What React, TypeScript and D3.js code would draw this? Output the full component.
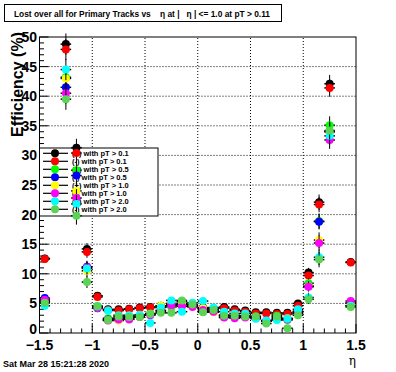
import React from "react";
import * as d3 from "d3";

const bins = [-1.45, -1.25, -1.15, -1.05, -0.95, -0.85, -0.75, -0.65, -0.55, -0.45, -0.35, -0.25, -0.15, -0.05, 0.05, 0.15, 0.25, 0.35, 0.45, 0.55, 0.65, 0.75, 0.85, 0.95, 1.05, 1.15, 1.25, 1.45];
const binErr = [0.6, 1.8, 1.5, 1.0, 0.5, 0.3, 0.3, 0.3, 0.3, 0.3, 0.3, 0.3, 0.3, 0.3, 0.3, 0.3, 0.3, 0.3, 0.3, 0.3, 0.3, 0.3, 0.3, 0.4, 0.8, 1.3, 1.5, 0.6];

const posPt01 = [12.6, 48.8, 31.3, 14.2, 6.3, 4.0, 4.0, 4.1, 4.3, 4.4, 4.6, 4.7, 4.9, 4.7, 4.3, 4.2, 4.4, 4.0, 3.8, 3.5, 3.5, 3.4, 3.4, 5.0, 10.2, 22.1, 42.1, 12.0];
const negPt01 = [12.5, 47.9, 30.4, 13.7, 6.1, 3.9, 3.8, 4.0, 4.2, 4.3, 4.5, 4.6, 4.8, 4.6, 4.2, 4.1, 4.2, 3.8, 3.6, 3.3, 3.3, 3.2, 3.2, 4.6, 9.7, 21.7, 41.4, 11.9];
const posPt05 = [5.3, 43.2, 27.5, 11.0, 4.5, 2.5, 2.6, 2.8, 2.9, 3.3, 3.6, 4.4, 5.3, 4.7, 3.6, 3.8, 3.0, 3.0, 2.9, 2.8, 2.0, 2.9, 2.2, 3.3, 8.4, 18.9, 35.1, 4.6];
const negPt05 = [5.9, 41.5, 26.6, 11.2, 4.2, 2.3, 2.4, 2.6, 2.8, 3.2, 3.8, 4.8, 4.8, 4.6, 3.9, 3.6, 3.0, 2.8, 2.8, 2.7, 2.0, 2.6, 2.4, 3.6, 7.9, 18.8, 34.0, 5.1];
const posPt10 = [5.4, 43.0, 24.0, 10.5, 4.3, 2.2, 2.1, 2.4, 2.7, 3.2, 4.6, 5.0, 5.0, 4.5, 4.2, 3.5, 2.7, 2.6, 2.7, 2.6, 2.0, 2.3, 2.5, 3.7, 7.9, 15.7, 34.0, 5.0];
const negPt10 = [5.6, 40.5, 22.8, 11.1, 4.3, 2.1, 2.3, 2.3, 2.7, 3.0, 3.8, 4.7, 4.5, 4.4, 3.9, 3.6, 2.6, 2.5, 2.6, 2.5, 2.1, 2.4, 2.3, 3.5, 7.8, 15.2, 32.6, 5.4];
const posPt20 = [4.6, 44.5, 21.8, 10.9, 4.5, 3.8, 3.0, 3.0, 3.1, 1.7, 4.3, 5.5, 3.6, 5.1, 5.4, 4.3, 3.6, 3.3, 3.3, 2.4, 2.1, 2.2, 2.4, 4.0, 6.0, 12.8, 33.3, 4.6];
const negPt20 = [5.1, 39.5, 19.8, 8.6, 4.5, 2.2, 2.8, 2.7, 2.7, 3.2, 3.4, 3.4, 5.5, 4.8, 3.5, 3.9, 2.9, 2.9, 2.8, 2.8, 1.6, 2.8, 0.8, 3.0, 5.7, 12.4, 34.2, 4.4];

const seriesLabels = ["(+) with pT > 0.1", "(-) with pT > 0.1", "(+) with pT > 0.5", "(-) with pT > 0.5", "(+) with pT > 1.0", "(-) with pT > 1.0", "(+) with pT > 2.0", "(-) with pT > 2.0"];
const seriesColors = ["#000000", "#ff0000", "#00ff00", "#0000ff", "#ffff00", "#ff00ff", "#00ffff", "#59d454"];
const seriesValues = [posPt01, negPt01, posPt05, negPt05, posPt10, negPt10, posPt20, negPt20];

const xTicks = [-1.5, -1, -0.5, 0, 0.5, 1, 1.5];
const xTickLabels = ["\u22121.5", "\u22121", "\u22120.5", "0", "0.5", "1", "1.5"];
const yTicks = [0, 5, 10, 15, 20, 25, 30, 35, 40, 45, 50];

const title = "Lost over all for Primary Tracks vs    \u03b7 at |   \u03b7 | <= 1.0 at pT > 0.11";
const dateText = "Sat Mar 28 15:21:28 2020";

export default function App() {
  const W = 396, H = 372;
  const x = d3.scaleLinear().domain([-1.5, 1.5]).range([39.5, 356]);
  const y = d3.scaleLinear().domain([0, 50]).range([333, 37]);
  const halfBin = 0.05;
  const font = "'Liberation Sans', Arial, sans-serif";

  const xMinor = d3.range(-1.5, 1.5001, 0.1);
  const yMinor = d3.range(0, 50.001, 1);
  const gridX = xTicks.filter((t) => t > -1.5 && t < 1.5);
  const gridY = yTicks.filter((t) => t > 0 && t < 50);

  const legX0 = 39.5, legX1 = 158, legY0 = 148, legY1 = 216;
  const legRow = d3.scaleLinear().domain([0, 7]).range([153.3, 209.3]);

  return (
    <svg width={W} height={H} style={{ position: "absolute", left: 0, top: 0, background: "#fff" }} fontFamily={font}>
      <rect x={0} y={0} width={W} height={H} fill="#fff" />
      {/* title box */}
      <rect x={4.5} y={4.5} width={277} height={17} fill="#fff" stroke="#000" strokeWidth={1} />
      <text x={142} y={16.5} textAnchor="middle" fontSize={9} fontWeight="bold" textLength={256} lengthAdjust="spacingAndGlyphs" style={{ whiteSpace: "pre" }}>{title}</text>

      {/* grid */}
      {gridX.map((t) => (
        <line key={"gx" + t} x1={x(t)} x2={x(t)} y1={y(0)} y2={y(50)} stroke="#000" strokeDasharray="1,2" strokeWidth={1} />
      ))}
      {gridY.map((t) => (
        <line key={"gy" + t} x1={x(-1.5)} x2={x(1.5)} y1={y(t)} y2={y(t)} stroke="#000" strokeDasharray="1,2" strokeWidth={1} />
      ))}

      {/* frame */}
      <rect x={x(-1.5)} y={y(50)} width={x(1.5) - x(-1.5)} height={y(0) - y(50)} fill="none" stroke="#000" strokeWidth={1} />

      {/* ticks */}
      {xMinor.map((t, i) => {
        const major = Math.abs(Math.round(t * 10) % 5) === 0;
        return <line key={"xt" + i} x1={x(t)} x2={x(t)} y1={y(0)} y2={y(0) - (major ? 9 : 4.5)} stroke="#000" />;
      })}
      {yMinor.map((t, i) => {
        const major = Math.round(t) % 5 === 0;
        return <line key={"yt" + i} x1={x(-1.5)} x2={x(-1.5) + (major ? 9 : 4.5)} y1={y(t)} y2={y(t)} stroke="#000" />;
      })}
      {xTicks.map((t, i) => (
        <text key={"xl" + t} x={x(t)} y={350} textAnchor="middle" fontSize={14} fontWeight="bold">{xTickLabels[i]}</text>
      ))}
      {yTicks.map((t) => (
        <text key={"yl" + t} x={37} y={t === 0 ? y(t) + 0.5 : y(t) + 5} textAnchor="end" fontSize={14} fontWeight="bold">{t}</text>
      ))}

      {/* axis titles */}
      <text x={0} y={0} transform={`translate(23,${y(50) - 5}) rotate(-90)`} textAnchor="end" fontSize={16} fontWeight="bold">Efficiency (%)</text>
      <text x={356} y={365} textAnchor="end" fontSize={12} fontFamily="'DejaVu Serif', serif">{"\u03b7"}</text>

      {/* legend */}
      <rect x={legX0} y={legY0} width={legX1 - legX0} height={legY1 - legY0} fill="#fff" stroke="#000" strokeWidth={1} />
      {seriesLabels.map((lab, i) => (
        <g key={"lg" + i}>
          <line x1={43} x2={68} y1={legRow(i)} y2={legRow(i)} stroke="#000" strokeWidth={1.2} />
          <circle cx={55} cy={legRow(i)} r={4} fill={seriesColors[i]} />
          <text x={72} y={legRow(i) + 3} fontSize={7.5} fontWeight="bold">{lab}</text>
        </g>
      ))}

      {/* data */}
      {seriesValues.map((vals, s) => (
        <g key={"s" + s}>
          {vals.map((v, i) => (
            <g key={i}>
              <line x1={x(bins[i] - halfBin)} x2={x(bins[i] + halfBin)} y1={y(v)} y2={y(v)} stroke="#000" strokeWidth={1.5} />
              <line x1={x(bins[i])} x2={x(bins[i])} y1={y(v - binErr[i])} y2={y(v + binErr[i])} stroke="#000" strokeWidth={1} />
              <circle cx={x(bins[i])} cy={y(v)} r={4} fill={seriesColors[s]} />
            </g>
          ))}
        </g>
      ))}

      {/* date */}
      <text x={3} y={367} fontSize={9} fontWeight="bold">{dateText}</text>
    </svg>
  );
}
